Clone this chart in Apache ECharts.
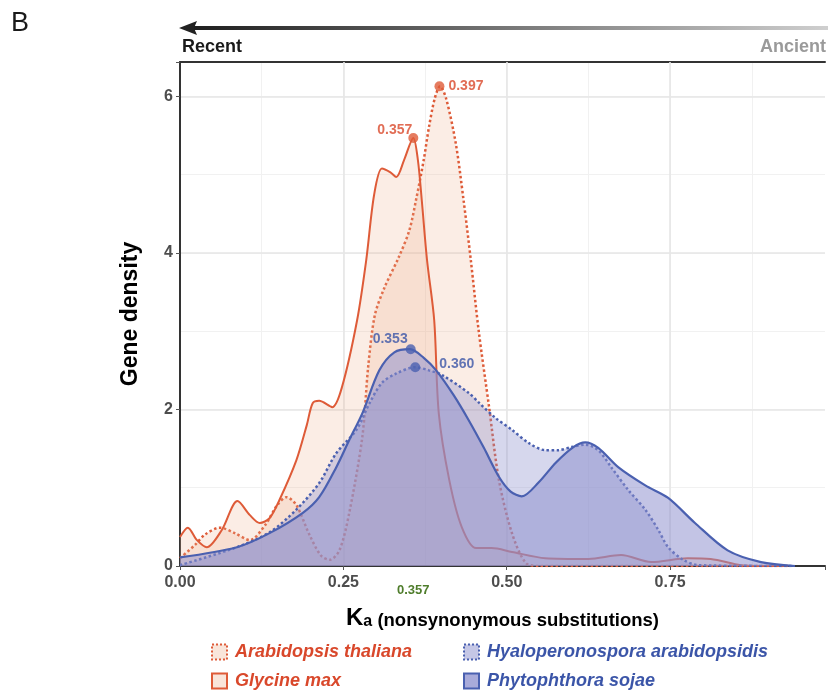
<!DOCTYPE html>
<html>
<head>
<meta charset="utf-8">
<script src="https://cdn.jsdelivr.net/npm/echarts@6.0.0/dist/echarts.min.js"></script>
<style>
html,body{margin:0;padding:0;background:#fff;}
#chart{width:828px;height:692px;}
</style>
</head>
<body>
<div id="chart"></div>
<script>
// ---------- data ----------
const seriesNames = ['Arabidopsis thaliana', 'Glycine max', 'Hyaloperonospora arabidopsidis', 'Phytophthora sojae'];

const araX = [0, 0.023, 0.038, 0.061, 0.084, 0.107, 0.130, 0.149, 0.163, 0.178, 0.198, 0.216, 0.229, 0.244, 0.259, 0.279, 0.288, 0.298, 0.3125, 0.335, 0.351, 0.361, 0.373, 0.381, 0.390, 0.398, 0.407, 0.422, 0.434, 0.445, 0.457, 0.473, 0.488, 0.508, 0.529, 0.549, 0.93];
const araY = [0.10, 0.27, 0.40, 0.49, 0.42, 0.33, 0.52, 0.78, 0.88, 0.78, 0.40, 0.13, 0.08, 0.20, 0.68, 1.65, 2.55, 3.20, 3.55, 3.95, 4.29, 4.67, 5.19, 5.61, 5.98, 6.13, 5.98, 5.40, 4.67, 3.91, 3.01, 2.03, 1.10, 0.42, 0.04, 0, 0];

const glyX = [0, 0.012, 0.026, 0.041, 0.064, 0.088, 0.107, 0.122, 0.137, 0.152, 0.178, 0.194, 0.203, 0.213, 0.233, 0.248, 0.271, 0.285, 0.297, 0.309, 0.322, 0.331, 0.343, 0.357, 0.364, 0.370, 0.378, 0.389, 0.396, 0.412, 0.431, 0.453, 0.477, 0.508, 0.559, 0.625, 0.675, 0.721, 0.777, 0.812, 0.858, 0.884, 0.93];
const glyY = [0.37, 0.49, 0.33, 0.24, 0.46, 0.83, 0.65, 0.55, 0.61, 0.84, 1.35, 1.80, 2.08, 2.11, 2.03, 2.29, 3.14, 3.91, 4.74, 5.08, 5.03, 4.97, 5.19, 5.47, 5.19, 4.67, 3.91, 3.14, 1.95, 1.10, 0.50, 0.23, 0.23, 0.18, 0.10, 0.09, 0.14, 0.05, 0.10, 0.09, 0.01, 0, 0];

const hyaX = [0, 0.087, 0.137, 0.178, 0.213, 0.239, 0.270, 0.290, 0.309, 0.331, 0.360, 0.381, 0.401, 0.442, 0.457, 0.483, 0.508, 0.534, 0.559, 0.579, 0.599, 0.620, 0.640, 0.660, 0.686, 0.712, 0.732, 0.747, 0.770, 0.793, 0.94];
const hyaY = [0.01, 0.24, 0.43, 0.72, 1.06, 1.44, 1.74, 2.08, 2.34, 2.46, 2.54, 2.50, 2.44, 2.21, 2.09, 1.89, 1.74, 1.57, 1.48, 1.48, 1.52, 1.55, 1.48, 1.26, 0.97, 0.72, 0.46, 0.24, 0.08, 0.01, 0];

const phyX = [0, 0.087, 0.137, 0.188, 0.213, 0.239, 0.259, 0.279, 0.305, 0.328, 0.352, 0.373, 0.392, 0.419, 0.442, 0.465, 0.488, 0.506, 0.523, 0.549, 0.575, 0.602, 0.620, 0.640, 0.671, 0.712, 0.747, 0.788, 0.838, 0.889, 0.941];
const phyY = [0.11, 0.24, 0.42, 0.68, 0.88, 1.26, 1.61, 1.95, 2.50, 2.73, 2.77, 2.66, 2.50, 2.18, 1.86, 1.51, 1.14, 0.95, 0.89, 1.07, 1.32, 1.52, 1.58, 1.51, 1.26, 1.03, 0.87, 0.55, 0.20, 0.05, 0];

// peak markers (order: Arabidopsis, Glycine, Hyaloperonospora, Phytophthora)
const peakX = [0.397, 0.357, 0.360, 0.353];
const peakY = [6.13, 5.47, 2.54, 2.77];

const xTicks = [0, 0.25, 0.5, 0.75];
const yTicks = [0, 2, 4, 6];
const xMax = 0.987, yMax = 6.44;
const markedValue = 0.357;

// ---------- styles ----------
const ORANGE = '#de5b38', ORANGE_TXT = '#d9482b';
const BLUE = '#4a60b0', BLUE_TXT = '#3b55a8';
const orangeFill = 'rgba(237,177,143,0.33)';
const hyaFill = 'rgba(140,143,205,0.5)';
const phyFill = 'rgba(140,143,205,0.75)';
const FONT = '"Liberation Sans", Arial, Helvetica, sans-serif';

const pairs = (xs, ys) => xs.map((x, i) => [x, ys[i]]);
const seriesStyle = [
  {data: pairs(araX, araY), color: ORANGE, type: 'dotted', fill: orangeFill, width: 2.5},
  {data: pairs(glyX, glyY), color: ORANGE, type: 'solid', fill: orangeFill, width: 2},
  {data: pairs(hyaX, hyaY), color: BLUE, type: 'dotted', fill: hyaFill, width: 2.5},
  {data: pairs(phyX, phyY), color: BLUE, type: 'solid', fill: phyFill, width: 2.2}
];

const series = seriesStyle.map((s, i) => ({
  name: seriesNames[i],
  type: 'line',
  xAxisIndex: 0, yAxisIndex: 0,
  data: s.data,
  smooth: 0.3,
  symbol: 'none',
  lineStyle: {color: s.color, width: s.width, type: s.type},
  itemStyle: {color: s.color},
  areaStyle: {color: s.fill, origin: 0},
  z: 2 + i
}));

const peakColors = [ORANGE, ORANGE, BLUE, BLUE];
const peakTxt = [ORANGE_TXT, ORANGE_TXT, BLUE_TXT, BLUE_TXT];
const peakLabelPos = [
  {position: 'right', offset: [0, 0]},
  {position: 'left', offset: [8, -8]},
  {position: 'right', offset: [15, -3]},
  {position: 'left', offset: [6, -10]}
];
series.push({
  name: 'peaks',
  type: 'scatter',
  xAxisIndex: 0, yAxisIndex: 0,
  symbolSize: 10,
  z: 10,
  data: peakX.map((x, i) => ({
    value: [x, peakY[i]],
    itemStyle: {color: peakColors[i]},
    label: {
      show: true,
      position: peakLabelPos[i].position,
      offset: peakLabelPos[i].offset,
      distance: 4,
      formatter: x.toFixed(3),
      color: peakTxt[i],
      fontWeight: 'bold',
      fontSize: 14,
      fontFamily: FONT
    }
  }))
});

const isTick = (v, list) => list.some(t => Math.abs(t - v) < 1e-6);

const legendItem = (name, color, fill, btype) => ({
  name: name,
  itemStyle: {color: fill, borderColor: color, borderWidth: 2, borderType: btype},
  textStyle: {color: color === ORANGE ? ORANGE_TXT : BLUE_TXT}
});
const legendCommon = {
  orient: 'vertical',
  icon: 'rect',
  itemWidth: 15, itemHeight: 15,
  itemGap: 11,
  height: 80,
  width: 360,
  padding: 0,
  selectedMode: false,
  textStyle: {fontSize: 18, fontStyle: 'italic', fontWeight: 'bold', fontFamily: FONT, lineHeight: 18, padding: [0, 0, 0, 3]}
};

const option = {
  animation: false,
  backgroundColor: '#fff',
  textStyle: {fontFamily: FONT},
  grid: {left: 180, right: 0, top: 62, bottom: 126, containLabel: false},
  legend: [
    Object.assign({}, legendCommon, {left: 211, top: 643, data: [
      legendItem(seriesNames[0], ORANGE, orangeFill, 'dotted'),
      legendItem(seriesNames[1], ORANGE, orangeFill, 'solid')]}),
    Object.assign({}, legendCommon, {left: 463, top: 643, data: [
      legendItem(seriesNames[2], BLUE, hyaFill, 'dotted'),
      legendItem(seriesNames[3], BLUE, phyFill, 'solid')]})
  ],
  xAxis: [
    {
      type: 'value', min: 0, max: xMax, interval: 0.25, position: 'bottom', z: 1,
      axisLine: {show: true, onZero: false, lineStyle: {color: '#333', width: 2}},
      axisTick: {show: true, length: 4, lineStyle: {color: '#555', width: 1}},
      axisLabel: {
        margin: 9, fontSize: 16, fontWeight: 'bold', color: '#4d4d4d', fontFamily: FONT,
        formatter: v => isTick(v, xTicks) ? v.toFixed(2) : ''
      },
      splitLine: {show: true, showMaxLine: false, lineStyle: {color: '#e6e6e6', width: 1.6}},
      name: '{K|K}{a|a}{t| (nonsynonymous substitutions)}',
      nameLocation: 'middle',
      nameGap: 40,
      nameTextStyle: {
        rich: {
          K: {fontSize: 24, fontWeight: 'bold', color: '#000', fontFamily: FONT, verticalAlign: 'bottom'},
          a: {fontSize: 16, fontWeight: 'bold', color: '#000', fontFamily: FONT, verticalAlign: 'bottom'},
          t: {fontSize: 18.5, fontWeight: 'bold', color: '#000', fontFamily: FONT, verticalAlign: 'bottom'}
        }
      }
    },
    {
      type: 'value', min: 0, max: xMax, interval: 0.125, position: 'top', z: 0,
      axisLine: {show: true, onZero: false, lineStyle: {color: '#333', width: 2}},
      axisTick: {show: false},
      axisLabel: {show: false},
      splitLine: {show: true, showMaxLine: false, lineStyle: {color: '#f1f1f1', width: 1}}
    }
  ],
  yAxis: [
    {
      type: 'value', min: 0, max: yMax, interval: 2, position: 'left', z: 1,
      axisLine: {show: true, onZero: false, lineStyle: {color: '#333', width: 2}},
      axisTick: {show: true, length: 4, lineStyle: {color: '#555', width: 1}},
      axisLabel: {
        margin: 7, fontSize: 16, fontWeight: 'bold', color: '#4d4d4d', fontFamily: FONT,
        formatter: v => isTick(v, yTicks) ? String(v) : ''
      },
      splitLine: {show: true, showMaxLine: false, lineStyle: {color: '#e6e6e6', width: 1.6}},
      name: 'Gene density',
      nameLocation: 'middle',
      nameGap: 38,
      nameRotate: 90,
      nameTextStyle: {fontSize: 23, fontWeight: 'bold', color: '#000', fontFamily: FONT}
    },
    {
      type: 'value', min: 0, max: yMax, interval: 1, position: 'right', z: 0,
      axisLine: {show: false},
      axisTick: {show: false},
      axisLabel: {show: false},
      splitLine: {show: true, showMaxLine: false, lineStyle: {color: '#f1f1f1', width: 1}}
    }
  ],
  series: series
};

const chart = echarts.init(document.getElementById('chart'), null, {renderer: 'canvas'});
chart.setOption(option);

// positions from the chart's own scales
const markPx = chart.convertToPixel({xAxisIndex: 0}, markedValue);
const zeroPy = chart.convertToPixel({yAxisIndex: 0}, 0);

chart.setOption({
  graphic: {
    elements: [
      {type: 'text', left: 11, top: 10, style: {text: 'B', font: 'normal 27px ' + FONT, fill: '#1a1a1a'}},
      {type: 'rect', shape: {x: 192, y: 26, width: 636, height: 4},
        style: {fill: {type: 'linear', x: 0, y: 0, x2: 1, y2: 0, colorStops: [
          {offset: 0, color: '#1e1e1e'}, {offset: 0.5, color: '#777'}, {offset: 1, color: '#cfcfcf'}]}}},
      {type: 'polygon', shape: {points: [[179, 28], [197, 21], [194, 28], [197, 35]]}, style: {fill: '#222'}},
      {type: 'text', x: 182, y: 47, style: {text: 'Recent', font: 'bold 18px ' + FONT, fill: '#1a1a1a', textVerticalAlign: 'middle', verticalAlign: 'middle'}},
      {type: 'text', x: 826, y: 47, style: {text: 'Ancient', font: 'bold 18px ' + FONT, fill: '#9a9a9a', align: 'right', textAlign: 'right', verticalAlign: 'middle', textVerticalAlign: 'middle'}},
      {type: 'text', x: markPx, y: zeroPy + 24, style: {text: markedValue.toFixed(3), font: 'bold 13px ' + FONT, fill: '#4f7d2c', align: 'center', textAlign: 'center', verticalAlign: 'middle', textVerticalAlign: 'middle'}}
    ]
  }
});
</script>
</body>
</html>
